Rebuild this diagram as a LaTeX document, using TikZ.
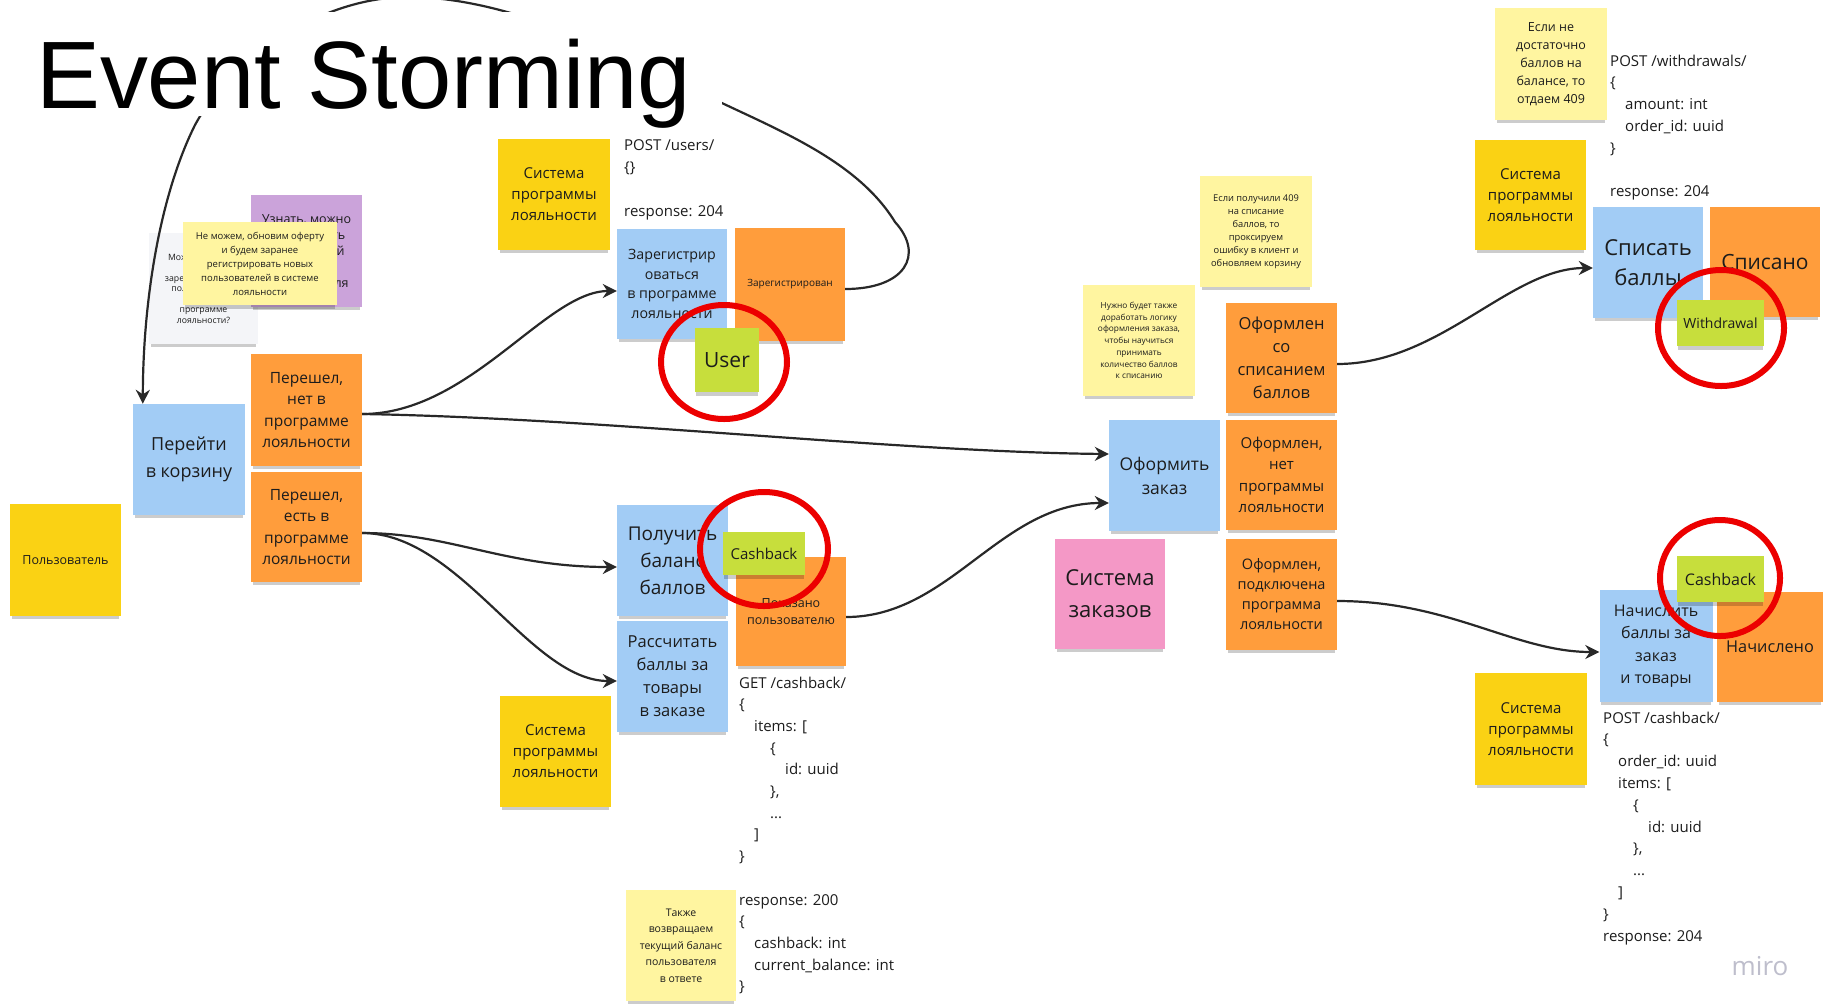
\documentclass[tikz,border=0pt]{standalone}
\usepackage{fontspec}
\setmainfont{Open Sans}
\newfontfamily\titlefont{Liberation Sans}
\usetikzlibrary{shapes.geometric,shadows,arrows.meta}
\definecolor{stY}{RGB}{250,210,20}
\definecolor{noteY}{RGB}{255,245,160}
\definecolor{stB}{RGB}{162,204,245}
\definecolor{stO}{RGB}{255,157,60}
\definecolor{stG}{RGB}{199,222,60}
\definecolor{stP}{RGB}{203,163,218}
\definecolor{stK}{RGB}{244,152,198}
\definecolor{stW}{RGB}{244,245,248}
\definecolor{ringR}{RGB}{236,0,0}
\definecolor{ink}{RGB}{28,28,28}
\definecolor{lineC}{RGB}{40,40,40}
\definecolor{miroC}{RGB}{190,190,204}
\newcommand{\fsz}[2]{\fontsize{#1}{#2}\selectfont}
\begin{document}
\begin{tikzpicture}[x=1pt,y=-1pt,
  sticky/.style={rectangle, inner sep=1pt, align=center, text=ink,
    minimum width=111pt, minimum height=111pt,
    drop shadow={shadow xshift=0pt, shadow yshift=-5pt, opacity=0.2, fill=black, shadow scale=0.97}},
  yel/.style={sticky, fill=stY},
  note/.style={sticky, fill=noteY},
  blu/.style={sticky, fill=stB},
  ora/.style={sticky, fill=stO},
  grn/.style={sticky, fill=stG},
  ring/.style={ellipse, draw=ringR, line width=6pt, inner sep=0},
  conn/.style={draw=lineC, line width=2.2pt, -{Stealth[length=14pt,width=14pt]}},
  code/.style={anchor=base west, inner sep=0, text=ink, font=\fsz{15}{18}}
]
\useasboundingbox (0,0) rectangle (1825,1005);
\fill[white] (0,0) rectangle (1825,1005);

% ---------- left cluster ----------
\node[yel, minimum height=112pt, font=\fsz{12.5}{16}] (usr) at (65.5,560) {Пользователь};
\node[blu, minimum width=112pt, font=\fsz{18}{27}] (cart) at (189,459.5) {Перейти\\в корзину};
\node[ora, minimum height=112pt, font=\fsz{15.5}{21.5}] (p1) at (306.5,410) {Перешел,\\нет в\\программе\\лояльности};
\node[ora, minimum height=110pt, font=\fsz{15.5}{21.5}] (p2) at (306.5,527) {Перешел,\\есть в\\программе\\лояльности};
\node[sticky, fill=stW, minimum width=109pt, font=\fsz{8.7}{10.5}] (q1) at (203.5,288.5) {Можно ли как-то\\заранее\\зарегистрировать\\пользователей\\в\\программе\\лояльности?};
\node[sticky, fill=stP, minimum height=112pt, font=\fsz{12.5}{16}] (q2) at (306.5,251) {Узнать, можно\\ли изменить\\для текущей\\оферту\\пользователя};
\node[note, minimum width=154pt, minimum height=83pt, font=\fsz{9.5}{14}] (n1) at (260,263.5) {Не можем, обновим оферту\\и будем заранее\\регистрировать новых\\пользователей в системе\\лояльности};

% ---------- registration ----------
\node[yel, minimum width=112pt, font=\fsz{15}{21}] (sys1) at (554,194.5) {Система\\программы\\лояльности};
\node[blu, minimum width=110pt, minimum height=110pt, font=\fsz{14.2}{19.5}] (reg) at (672,284) {Зарегистрир\\оваться\\в программе\\лояльности};
\node[ora, minimum width=110pt, minimum height=113pt, font=\fsz{10}{12}] (regd) at (790,284.5) {Зарегистрирован};
\node[grn, minimum width=64pt, minimum height=64pt, font=\fsz{21}{24}] (usrent) at (727,360) {User};

% ---------- balance ----------
\node[blu, font=\fsz{19}{27}] (bal) at (672.5,560.5) {Получить\\баланс\\баллов};
\node[blu, font=\fsz{16.5}{23}] (calc) at (672.5,676.5) {Рассчитать\\баллы за\\товары\\в заказе};
\node[ora, minimum width=110pt, minimum height=109pt, font=\fsz{12.5}{17}] (shown) at (791,611.5) {Показано\\пользователю};
\node[grn, minimum width=82pt, minimum height=43pt, font=\fsz{15}{18}] (cb1) at (764,553.5) {Cashback};
\node[yel, font=\fsz{15}{21}] (sys2) at (555.5,751) {Система\\программы\\лояльности};
\node[note, minimum width=110pt, font=\fsz{10.5}{16.5}] (n2) at (681,945.5) {Также\\возвращаем\\текущий баланс\\пользователя\\в ответе};

% ---------- order ----------
\node[blu, font=\fsz{17.5}{24}] (order) at (1164.5,475.5) {Оформить\\заказ};
\node[sticky, fill=stK, minimum width=110pt, minimum height=110pt, font=\fsz{22}{32}] (ordsys) at (1110,594) {Система\\заказов};
\node[ora, minimum height=110pt, font=\fsz{16.5}{23}] (o1) at (1281.5,358) {Оформлен\\со\\списанием\\баллов};
\node[ora, minimum height=110pt, font=\fsz{15}{21.5}] (o2) at (1281.5,475) {Оформлен,\\нет\\программы\\лояльности};
\node[ora, font=\fsz{14.5}{20}] (o3) at (1281.5,594.5) {Оформлен,\\подключена\\программа\\лояльности};
\node[note, minimum width=112pt, font=\fsz{8.3}{11.7}] (n3) at (1139,340.5) {Нужно будет также\\доработать логику\\оформления заказа,\\чтобы научиться\\принимать\\количество баллов\\к списанию};
\node[note, minimum width=112pt, font=\fsz{9.3}{13}] (n4) at (1256,231.5) {Если получили 409\\на списание\\баллов, то\\проксируем\\ошибку в клиент и\\обновляем корзину};

% ---------- withdrawal ----------
\node[note, minimum width=112pt, minimum height=112pt, font=\fsz{12.5}{18}] (n5) at (1551,64) {Если не\\достаточно\\баллов на\\балансе, то\\отдаем 409};
\node[yel, minimum height=110pt, font=\fsz{15}{21}] (sys3) at (1530.5,195) {Система\\программы\\лояльности};
\node[blu, minimum width=110pt, font=\fsz{22}{30}] (wd) at (1648,262.5) {Списать\\баллы};
\node[ora, minimum width=110pt, minimum height=110pt, font=\fsz{21}{24}] (wdd) at (1765,262) {Списано};
\node[grn, minimum width=87pt, minimum height=46pt, font=\fsz{14}{16}] (wdent) at (1720.5,323) {Withdrawal};

% ---------- accrual ----------
\node[blu, minimum width=113pt, minimum height=112pt, font=\fsz{16}{22.5}] (acc) at (1656,646) {Начислить\\баллы за\\заказ\\и товары};
\node[ora, minimum width=106pt, minimum height=110pt, font=\fsz{16.3}{20}] (accd) at (1770,647) {Начислено};
\node[grn, minimum width=87pt, minimum height=46pt, font=\fsz{16}{18}] (cb2) at (1720.5,579) {Cashback};
\node[yel, minimum width=112pt, minimum height=112pt, font=\fsz{15}{21}] (sys4) at (1531,729) {Система\\программы\\лояльности};

% ---------- red rings ----------
\node[ring, minimum width=126pt, minimum height=114pt] (ring1) at (724,362) {};
\node[ring, minimum width=128pt, minimum height=114pt] (ring2) at (764,549) {};
\node[ring, minimum width=126pt, minimum height=116pt] (ring3) at (1721,328) {};
\node[ring, minimum width=120pt, minimum height=116pt] (ring4) at (1720,578) {};

% ---------- connectors ----------
\draw[conn] ([yshift=-4pt]p1.east) .. controls (470,414) and (546,291) .. ([yshift=-7pt]reg.west);
\draw[conn] ([yshift=-4pt]p1.east) .. controls (600,418) and (900,452) .. ([yshift=21.5pt]order.west);
\draw[conn] ([yshift=-6pt]p2.east) .. controls (450,533) and (504,567) .. ([yshift=-6.5pt]bal.west);
\draw[conn] ([yshift=-6pt]p2.east) .. controls (460,533) and (530,681) .. ([yshift=-4.5pt]calc.west);
\draw[conn] ([yshift=-5.5pt]shown.east) .. controls (950,617) and (1000,503) .. ([yshift=-27.5pt]order.west);
\draw[conn] ([yshift=-6pt]o1.east) .. controls (1440,364) and (1510,268) .. ([yshift=-5.5pt]wd.west);
\draw[conn] ([yshift=-6.5pt]o3.east) .. controls (1450,601) and (1515,652) .. ([yshift=-6pt]acc.west);
\draw[conn] ([yshift=-4.5pt]regd.east) .. controls (905,289) and (925,255) .. (895,222)
  .. controls (860,165) and (790,135) .. (724,104)
  .. controls (640,65) and (520,-3) .. (408,-3)
  .. controls (320,-3) and (230,60) .. (195,125)
  .. controls (160,195) and (143,300) .. ([xshift=10pt]cart.north west);

% ---------- title ----------
\node[fill=white, minimum width=697pt, minimum height=104pt, inner sep=0] (titlebg) at (373.5,64) {};
\node[anchor=base west, inner sep=0, font=\titlefont\fsz{95.8}{100}] (title) at (36,108) {Event Storming};

% ---------- code texts ----------
\foreach \i/\dx/\t in {0/0/{POST /users/},1/0/{\{\}},3/0/{response: 204}}
  \node[code] (pu\i) at (624+\dx,150+22*\i) {\t};
\foreach \i/\dx/\t in {0/0/{GET /cashback/},1/0/{\{},2/15/{items: [},3/31/{\{},4/46/{id: uuid},5/31/{\},},6/31/{...},7/15/{]},8/0/{\}},10/0/{response: 200},11/0/{\{},12/15/{cashback: int},13/15/{current\_balance: int},14/0/{\}}}
  \node[code] (gc\i) at (739+\dx,688+21.7*\i) {\t};
\foreach \i/\dx/\t in {0/0/{POST /withdrawals/},1/0/{\{},2/15/{amount: int},3/15/{order\_id: uuid},4/0/{\}},6/0/{response: 204}}
  \node[code] (pw\i) at (1610+\dx,66+21.8*\i) {\t};
\foreach \i/\dx/\t in {0/0/{POST /cashback/},1/0/{\{},2/15/{order\_id: uuid},3/15/{items: [},4/30/{\{},5/45/{id: uuid},6/30/{\},},7/30/{...},8/15/{]},9/0/{\}},10/0/{response: 204}}
  \node[code] (pc\i) at (1603+\dx,723+21.8*\i) {\t};

\node[inner sep=0, text=miroC, font=\fsz{26}{28}] (miro) at (1760,966) {miro};
\end{tikzpicture}
\end{document}
